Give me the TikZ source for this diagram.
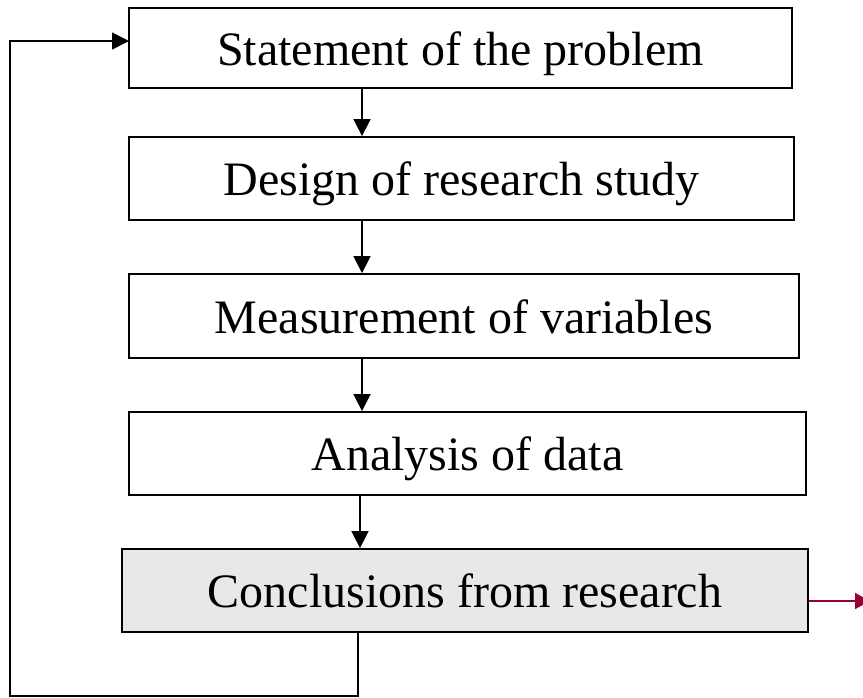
\documentclass[tikz,border=0pt]{standalone}
\usepackage{fontspec}
\setmainfont{Liberation Serif}
\usetikzlibrary{arrows.meta}
\definecolor{boxgray}{RGB}{232,232,232}
\definecolor{maroon}{RGB}{153,0,51}
\tikzset{
  stage/.style={draw=black, line width=1.8pt, fill=white, inner sep=0pt,
    text height=34pt, text depth=0pt,
    font=\fontsize{48}{56}\selectfont},
  flow/.style={draw=black, line width=1.6pt,
    -{Triangle[length=17pt,width=17pt]}},
  outflow/.style={draw=maroon, line width=1.8pt,
    -{Triangle[length=15pt,width=16pt]}}
}
\begin{document}
\begin{tikzpicture}[x=1pt,y=-1pt]
  \useasboundingbox (0,0) rectangle (863,697);

  % stages of the research process
  \node[stage, minimum width=663pt, minimum height=80pt] (s1) at (460.5,48) {Statement of the problem};
  \node[stage, minimum width=665pt, minimum height=83pt] (s2) at (461.5,178.5) {Design of research study};
  \node[stage, minimum width=670pt, minimum height=84pt] (s3) at (464,316) {Measurement of variables};
  \node[stage, minimum width=677pt, minimum height=83pt] (s4) at (467.5,453.5) {Analysis of data};
  \node[stage, fill=boxgray, minimum width=686pt, minimum height=83pt] (s5) at (465,590.5) {Conclusions from research};

  % guide coordinates for the connectors
  \coordinate (col) at (362,0);
  \coordinate (col4) at (360,0);
  \coordinate (back) at (358,0);
  \coordinate (corner) at (10,696);
  \coordinate (entry) at (129,41);
  \coordinate (out) at (870,601);

  % downward flow
  \draw[flow] (s1.south -| col) -- (s2.north -| col);
  \draw[flow] (s2.south -| col) -- (s3.north -| col);
  \draw[flow] (s3.south -| col) -- (s4.north -| col);
  \draw[flow] (s4.south -| col4) -- (s5.north -| col4);

  % feedback loop back to the problem statement
  \draw[flow] (s5.south -| back) |- (corner) |- (entry);

  % output of the conclusions
  \draw[outflow] (s5.east |- out) -- (out);
\end{tikzpicture}
\end{document}
